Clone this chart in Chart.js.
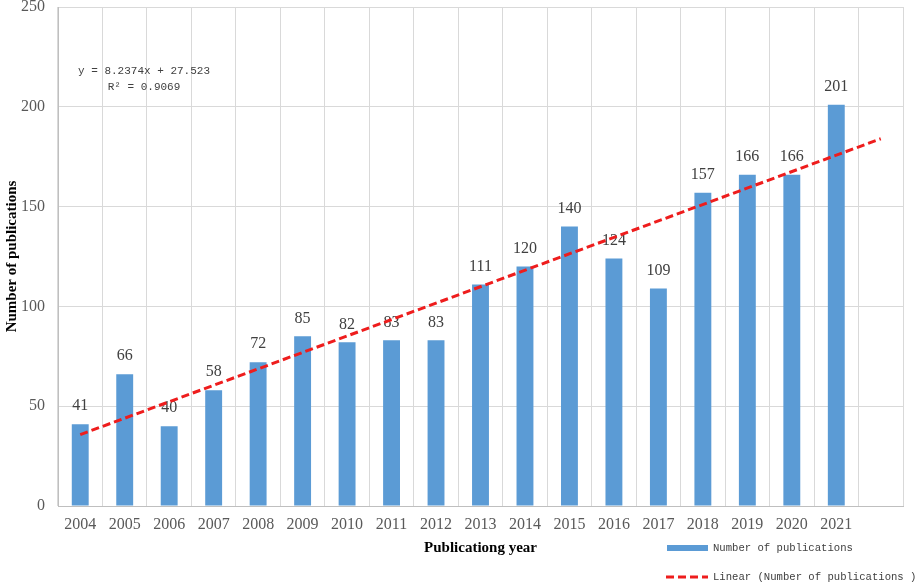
<!DOCTYPE html>
<html>
<head>
<meta charset="utf-8">
<script src="https://cdn.jsdelivr.net/npm/chart.js@4/dist/chart.umd.min.js"></script>
<style>
html,body{margin:0;padding:0;background:#fff;}
#wrap{width:921px;height:586px;}
</style>
</head>
<body>
<div id="wrap"><canvas id="c" width="921" height="586"></canvas></div>
<script>
const years = ['2004','2005','2006','2007','2008','2009','2010','2011','2012','2013','2014','2015','2016','2017','2018','2019','2020','2021',''];
const publications = [41,66,40,58,72,85,82,83,83,111,120,140,124,109,157,166,166,201];
const trendStart = 35.76;
const trendEnd = 184.0;
const trend = years.map((_, i) => i === 0 ? trendStart : (i === years.length - 1 ? trendEnd : null));
const yTicks = [0,50,100,150,200,250];
const equationLines = ['y = 8.2374x + 27.523', 'R² = 0.9069'];
const barLabel = 'Number of publications';
const lineLabel = 'Linear (Number of publications )';

const BAR_COLOR = '#5b9bd5';
const LINE_COLOR = '#ee1d1d';
const MONO = '"Liberation Mono", "DejaVu Sans Mono", monospace';
const SERIF = '"Liberation Serif", "DejaVu Serif", serif';

const extras = {
  id: 'extras',
  afterDatasetDraw(chart, args) {
    if (args.index !== 0) return;
    const ctx = chart.ctx;
    const meta = args.meta;
    ctx.save();
    ctx.font = '16px ' + SERIF;
    ctx.fillStyle = '#404040';
    ctx.textAlign = 'center';
    ctx.textBaseline = 'middle';
    meta.data.forEach((el, i) => {
      ctx.fillText(String(publications[i]), el.x, el.y - 18);
    });
    ctx.restore();
  },
  afterDraw(chart) {
    const ctx = chart.ctx;
    const xs = chart.scales.x, ys = chart.scales.y;
    ctx.save();
    // equation
    ctx.font = '11px ' + MONO;
    ctx.fillStyle = '#404040';
    ctx.textAlign = 'center';
    ctx.textBaseline = 'middle';
    const ex = xs.left + 86;
    ctx.fillText(equationLines[0], ex, ys.top + 64);
    ctx.fillText(equationLines[1], ex, ys.top + 80);
    // legend
    const lx0 = 667, lx1 = 708, tx = 713;
    const y1 = 548, y2 = 577;
    ctx.fillStyle = BAR_COLOR;
    ctx.fillRect(lx0, y1 - 3, lx1 - lx0, 6);
    ctx.strokeStyle = LINE_COLOR;
    ctx.lineWidth = 3;
    ctx.setLineDash([8, 4]);
    ctx.beginPath();
    ctx.moveTo(lx0 - 1, y2);
    ctx.lineTo(lx1, y2);
    ctx.stroke();
    ctx.setLineDash([]);
    ctx.fillStyle = '#404040';
    ctx.textAlign = 'left';
    ctx.font = '10.6px ' + MONO;
    ctx.fillText(barLabel, tx, y1);
    ctx.fillText(lineLabel, tx, y2);
    ctx.restore();
  }
};

new Chart(document.getElementById('c'), {
  type: 'bar',
  data: {
    labels: years,
    datasets: [
      {
        type: 'bar',
        label: barLabel,
        data: publications,
        backgroundColor: BAR_COLOR,
        borderWidth: 0,
        barPercentage: 0.38,
        categoryPercentage: 1.0,
        order: 2
      },
      {
        type: 'line',
        label: lineLabel,
        data: trend,
        spanGaps: true,
        borderColor: LINE_COLOR,
        borderWidth: 3,
        borderDash: [8, 4],
        pointRadius: 0,
        fill: false,
        order: 1
      }
    ]
  },
  options: {
    responsive: false,
    animation: false,
    devicePixelRatio: 1,
    layout: { padding: { top: 7, right: 18, left: 0, bottom: 0 } },
    plugins: { legend: { display: false }, tooltip: { enabled: false } },
    scales: {
      x: {
        grid: { color: '#d9d9d9', drawTicks: false, offset: true },
        border: { color: '#bfbfbf', width: 1 },
        ticks: { color: '#595959', font: { family: SERIF, size: 16 }, padding: 9, maxRotation: 0, autoSkip: false },
        title: { display: true, text: 'Publicationg year', color: '#000', font: { family: SERIF, size: 15, weight: 'bold' }, padding: { top: 0, bottom: 29 } },
        afterFit(s) { s.height = 80; s.paddingLeft = 0; s.paddingRight = 0; }
      },
      y: {
        min: 0, max: 250,
        afterBuildTicks(s) { s.ticks = yTicks.map(v => ({ value: v })); },
        grid: { color: '#d9d9d9', drawTicks: false },
        border: { color: '#bfbfbf', width: 1 },
        ticks: { color: '#595959', font: { family: SERIF, size: 16 }, padding: 13 },
        title: { display: true, text: 'Number of publications', color: '#000', font: { family: SERIF, size: 15, weight: 'bold' }, padding: { top: 3, bottom: 0 } },
        afterFit(s) { s.width = 58; s.paddingTop = 0; s.paddingBottom = 0; }
      }
    }
  },
  plugins: [extras]
});
</script>
</body>
</html>
